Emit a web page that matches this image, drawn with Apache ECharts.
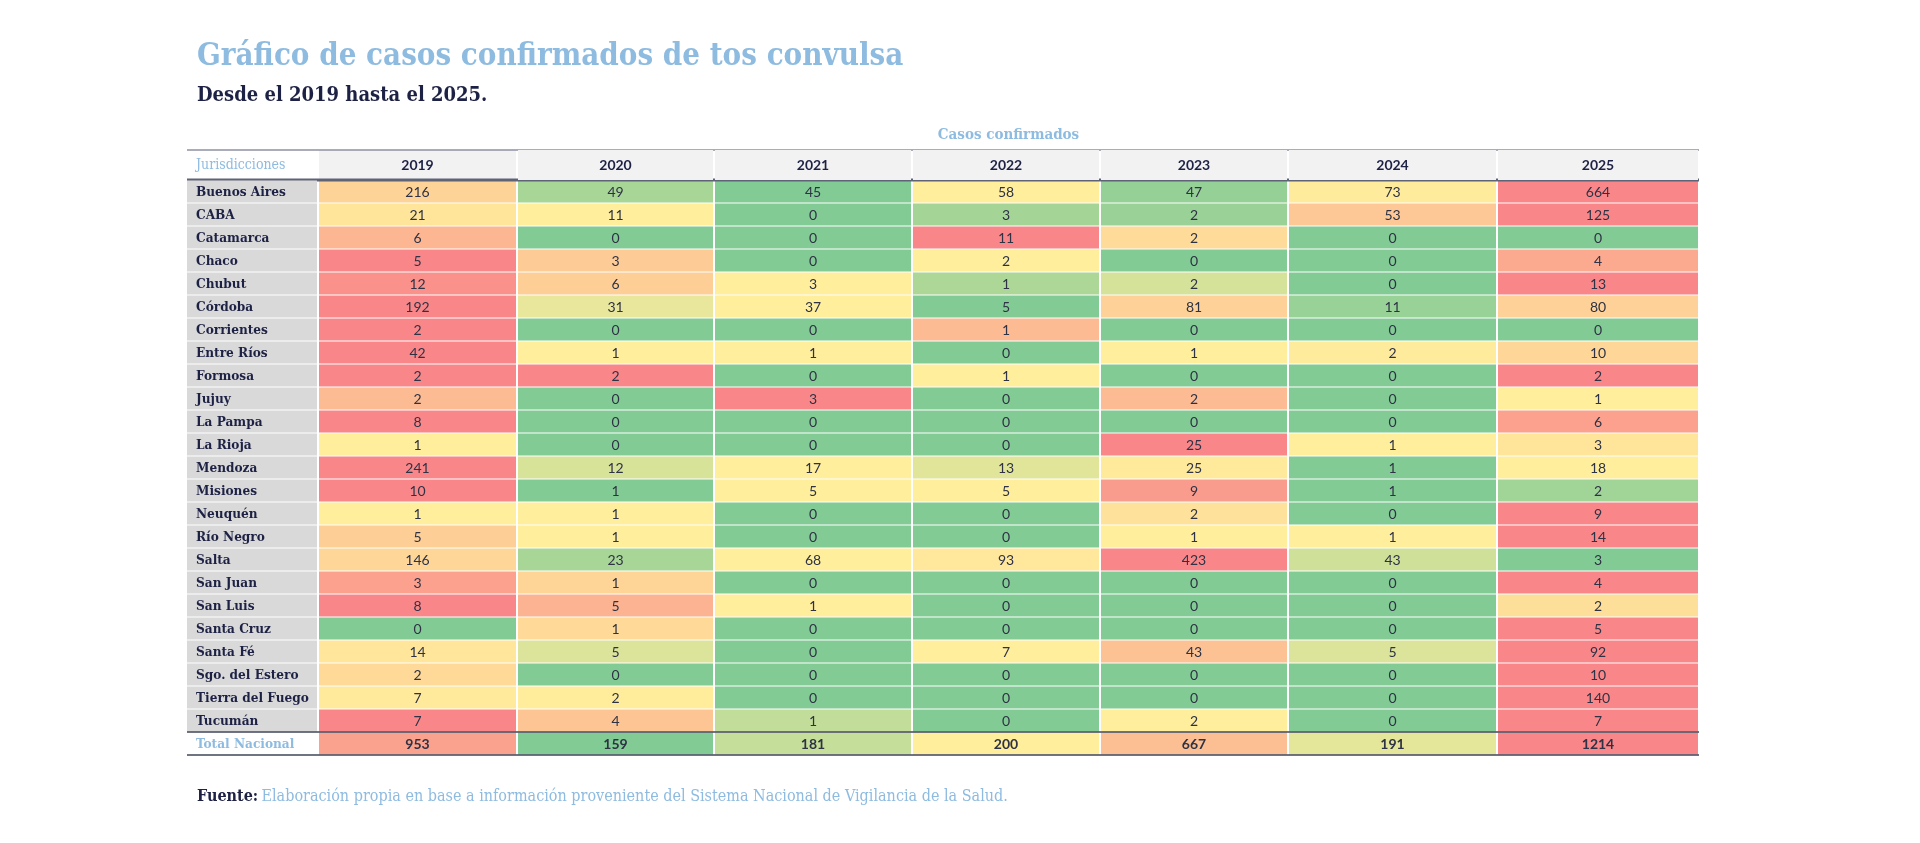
<!DOCTYPE html>
<html>
<head>
<meta charset="utf-8">
<title>Casos confirmados de tos convulsa</title>
<script src="https://cdn.jsdelivr.net/npm/echarts@6/dist/echarts.min.js"></script>
<style>
html, body { margin: 0; padding: 0; background: #fff; }
#chart { width: 1920px; height: 843px; }
</style>
</head>
<body>
<div id="chart"></div>
<script>
// años (columnas) y jurisdicciones (filas)
var years = ['2019', '2020', '2021', '2022', '2023', '2024', '2025'];
var jurisdicciones = ['Buenos Aires', 'CABA', 'Catamarca', 'Chaco', 'Chubut', 'Córdoba', 'Corrientes',
	'Entre Ríos', 'Formosa', 'Jujuy', 'La Pampa', 'La Rioja', 'Mendoza', 'Misiones', 'Neuquén',
	'Río Negro', 'Salta', 'San Juan', 'San Luis', 'Santa Cruz', 'Santa Fé', 'Sgo. del Estero',
	'Tierra del Fuego', 'Tucumán'];

// casos confirmados por año, en el orden de jurisdicciones
var casos2019 = [216, 21, 6, 5, 12, 192, 2, 42, 2, 2, 8, 1, 241, 10, 1, 5, 146, 3, 8, 0, 14, 2, 7, 7];
var casos2020 = [49, 11, 0, 3, 6, 31, 0, 1, 2, 0, 0, 0, 12, 1, 1, 1, 23, 1, 5, 1, 5, 0, 2, 4];
var casos2021 = [45, 0, 0, 0, 3, 37, 0, 1, 0, 3, 0, 0, 17, 5, 0, 0, 68, 0, 1, 0, 0, 0, 0, 1];
var casos2022 = [58, 3, 11, 2, 1, 5, 1, 0, 1, 0, 0, 0, 13, 5, 0, 0, 93, 0, 0, 0, 7, 0, 0, 0];
var casos2023 = [47, 2, 2, 0, 2, 81, 0, 1, 0, 2, 0, 25, 25, 9, 2, 1, 423, 0, 0, 0, 43, 0, 0, 2];
var casos2024 = [73, 53, 0, 0, 0, 11, 0, 2, 0, 0, 0, 1, 1, 1, 0, 1, 43, 0, 0, 0, 5, 0, 0, 0];
var casos2025 = [664, 125, 0, 4, 13, 80, 0, 10, 2, 1, 6, 3, 18, 2, 9, 14, 3, 4, 2, 5, 92, 10, 140, 7];
var totalNacional = [953, 159, 181, 200, 667, 191, 1214];

// diseño de la tabla (px)
var anchoCol = [199, 197, 198, 188, 188, 209, 202];
var anchoEtiqueta = 131;
var altoCabecera = 30;

var colorVerde = '#82CB95', colorAmarillo = '#FFEE9C', colorRojo = '#F98789';
var azulClaro = '#8EBBE0', azulOscuro = '#1D2245';
var serif = '"DejaVu Serif Condensed", "DejaVu Serif", serif';
var sans = 'Lato, "Open Sans", sans-serif';

var columnas = [casos2019, casos2020, casos2021, casos2022, casos2023, casos2024, casos2025];
var nombresFilas = jurisdicciones.concat(['Total Nacional']);
var filas = jurisdicciones.map(function(n, i) {
	return columnas.map(function(col) { return col[i]; });
});
filas.push(totalNacional);

var bordes = [0];
anchoCol.forEach(function(w) { bordes.push(bordes[bordes.length - 1] + w); });
var anchoTotal = bordes[bordes.length - 1];

// escala de 3 colores por fila: mínimo, percentil 50, máximo
function percentil(arr, p) {
	var s = arr.slice().sort(function(a, b) { return a - b; });
	var r = p * (s.length - 1), lo = Math.floor(r), hi = Math.ceil(r);
	return s[lo] + (s[hi] - s[lo]) * (r - lo);
}
function posEscala(v, min, mid, max) {
	if (v <= min) return 0;
	if (v >= max) return 2;
	if (v <= mid) return (v - min) / (mid - min);
	return 1 + (v - mid) / (max - mid);
}

var celdas = [];
filas.forEach(function(fila, r) {
	var mn = Math.min.apply(null, fila), mx = Math.max.apply(null, fila), md = percentil(fila, 0.5);
	fila.forEach(function(v, c) {
		celdas.push([c, r, v, posEscala(v, mn, md, mx)]);
	});
});

var myChart = echarts.init(document.getElementById('chart'));
var ultimaFila = filas.length - 1;

var option = {
	backgroundColor: '#fff',
	animation: false,
	grid: { left: 318, top: 180, width: anchoTotal, height: 575 },
	xAxis: { type: 'value', min: 0, max: anchoTotal, show: false },
	yAxis: { type: 'category', data: nombresFilas, inverse: true, show: false },
	visualMap: {
		type: 'continuous', show: false, seriesIndex: 0, dimension: 3,
		min: 0, max: 2,
		inRange: { color: [colorVerde, colorAmarillo, colorRojo] }
	},
	graphic: [
		{ type: 'text', left: 197, top: 41, style: { text: 'Gráfico de casos confirmados de tos convulsa',
			font: 'bold 31px ' + serif, fill: azulClaro } },
		{ type: 'text', left: 197, top: 86, style: { text: 'Desde el 2019 hasta el 2025.',
			font: 'bold 20px ' + serif, fill: azulOscuro } },
		{ type: 'text', left: 197, top: 789, style: {
			text: '{b|Fuente:} {n|Elaboración propia en base a información proveniente del Sistema Nacional de Vigilancia de la Salud.}',
			rich: {
				b: { font: 'bold 16px ' + serif, fill: azulOscuro },
				n: { font: '16px ' + serif, fill: azulClaro }
			} } }
	],
	series: [
		{
			// celdas de datos
			type: 'custom',
			data: celdas,
			encode: { x: 0, y: 1 },
			renderItem: function(params, api) {
				var c = api.value(0), r = api.value(1);
				var p0 = api.coord([bordes[c], r]), p1 = api.coord([bordes[c + 1], r]);
				var h = api.size([0, 1])[1];
				return { type: 'group', children: [
					{ type: 'rect', shape: { x: p0[0] + 1, y: p0[1] - h / 2 + 0.5, width: p1[0] - p0[0] - 2, height: h - 1 },
						style: { fill: api.visual('color') } },
					{ type: 'text', style: { text: String(api.value(2)), x: (p0[0] + p1[0]) / 2, y: p0[1] + 1,
						align: 'center', verticalAlign: 'middle', fill: '#2E3244',
						font: (r === ultimaFila ? 'bold ' : '') + '14px ' + sans } }
				] };
			}
		},
		{
			// cabecera de años
			type: 'custom',
			data: years.map(function(y, i) { return [i, 0]; }),
			encode: { x: 0, y: 1 },
			z: 3,
			renderItem: function(params, api) {
				var c = api.value(0);
				var p0 = api.coord([bordes[c], 0]), p1 = api.coord([bordes[c + 1], 0]);
				var h = api.size([0, 1])[1];
				var top = p0[1] - h / 2 - altoCabecera;
				var hijos = [
					{ type: 'rect', shape: { x: p0[0] + 1, y: top, width: p1[0] - p0[0] - 2, height: altoCabecera },
						style: { fill: '#F2F2F2' } },
					{ type: 'text', style: { text: years[c], x: (p0[0] + p1[0]) / 2, y: top + altoCabecera / 2,
						align: 'center', verticalAlign: 'middle', fill: azulOscuro, font: 'bold 14px ' + sans } }
				];
				if (c === 0) {
					var izq = p0[0] - anchoEtiqueta, der = api.coord([anchoTotal, 0])[0];
					hijos.push(
						{ type: 'text', style: { text: 'Casos confirmados', x: (p0[0] + der) / 2, y: top - 15,
							align: 'center', verticalAlign: 'middle', fill: azulClaro, font: 'bold 15px ' + serif } },
						{ type: 'text', style: { text: 'Jurisdicciones', x: izq + 9, y: top + altoCabecera / 2,
							align: 'left', verticalAlign: 'middle', fill: azulClaro, font: '14px ' + serif } },
						{ type: 'line', shape: { x1: izq, y1: top, x2: der, y2: top },
							style: { stroke: '#8E91A2', lineWidth: 1.5 } },
						{ type: 'line', shape: { x1: izq, y1: top + altoCabecera, x2: der, y2: top + altoCabecera },
							style: { stroke: '#5E6376', lineWidth: 3 } }
					);
				}
				return { type: 'group', children: hijos };
			}
		},
		{
			// columna de jurisdicciones
			type: 'custom',
			data: nombresFilas.map(function(n, i) { return [0, i]; }),
			encode: { x: 0, y: 1 },
			z: 3,
			renderItem: function(params, api) {
				var r = api.value(1);
				var p = api.coord([0, r]);
				var h = api.size([0, 1])[1];
				var izq = p[0] - anchoEtiqueta;
				var esTotal = r === ultimaFila;
				var hijos = [
					{ type: 'rect', shape: { x: izq, y: p[1] - h / 2 + 0.5, width: anchoEtiqueta - 1, height: h - 1 },
						style: { fill: esTotal ? '#fff' : '#D9D9D9' } },
					{ type: 'text', style: { text: nombresFilas[r], x: izq + 9, y: p[1] + 1,
						align: 'left', verticalAlign: 'middle', fill: esTotal ? azulClaro : azulOscuro,
						font: 'bold 13.5px ' + serif } }
				];
				if (esTotal) {
					var der = api.coord([anchoTotal, r])[0];
					hijos.push(
						{ type: 'line', shape: { x1: izq, y1: p[1] - h / 2, x2: der, y2: p[1] - h / 2 },
							style: { stroke: '#3F4458', lineWidth: 1.5 } },
						{ type: 'line', shape: { x1: izq, y1: p[1] + h / 2, x2: der, y2: p[1] + h / 2 },
							style: { stroke: '#3F4458', lineWidth: 1.5 } }
					);
				}
				return { type: 'group', children: hijos };
			}
		}
	]
};
myChart.setOption(option);
</script>
</body>
</html>
